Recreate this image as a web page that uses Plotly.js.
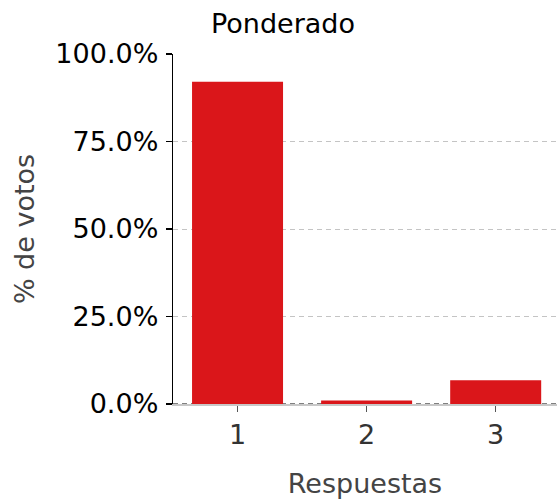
<!DOCTYPE html>
<html>
<head>
<meta charset="utf-8">
<script src="https://cdn.plot.ly/plotly-3.0.1.min.js"></script>
<style>html,body{margin:0;padding:0;background:#fff;}#chart{width:557px;height:499px;}</style>
</head>
<body>
<div id="chart"></div>
<script>
const categories = ["1", "2", "3"];
const shares = [0.921, 0.010, 0.068];
const yTicks = [0, 0.25, 0.5, 0.75, 1.0];

const font = "DejaVu Sans, sans-serif";

Plotly.newPlot("chart", [{
  type: "bar",
  x: categories,
  y: shares,
  width: 0.705,
  marker: {color: "#da161a", line: {width: 0}},
  hoverinfo: "none"
}], {
  width: 557, height: 499,
  margin: {l: 173, r: 0, t: 54, b: 95, pad: 0},
  paper_bgcolor: "#fff", plot_bgcolor: "#fff",
  showlegend: false,
  bargap: 0.3,
  title: {text: "Ponderado", font: {family: font, size: 27, color: "#000"},
          x: 211 / 557, xref: "container", xanchor: "left",
          y: 1 - 24 / 499, yref: "container", yanchor: "middle"},
  xaxis: {
    type: "category",
    range: [-0.5, 2.475],
    showgrid: false, zeroline: false,
    showline: true, linecolor: "#c8c8c8", linewidth: 1.5,
    ticks: "outside", ticklen: 6, tickwidth: 1.5, tickcolor: "#555",
    tickfont: {family: font, size: 27, color: "#333"},
    title: {text: "Respuestas", font: {family: font, size: 27, color: "#444"}, standoff: 29}
  },
  yaxis: {
    range: [0, 1.0],
    tickvals: yTicks,
    tickformat: ".1%",
    showgrid: true, gridcolor: "#c4c4c4", gridwidth: 1, griddash: "5px,4px",
    zeroline: false,
    showline: true, linecolor: "#000", linewidth: 1.3,
    ticks: "outside", ticklen: 6, tickwidth: 1.3, tickcolor: "#000",
    ticklabelstandoff: 2,
    tickfont: {family: font, size: 27, color: "#000"},
    title: {text: "% de votos", font: {family: font, size: 27, color: "#444"}, standoff: 13}
  },
  shapes: [{
    type: "line", xref: "paper", yref: "y", x0: 0, x1: 1, y0: 0, y1: 0,
    line: {color: "#000", width: 1, dash: "5px,4px"}, layer: "below"
  }]
}, {staticPlot: true});
</script>
</body>
</html>
